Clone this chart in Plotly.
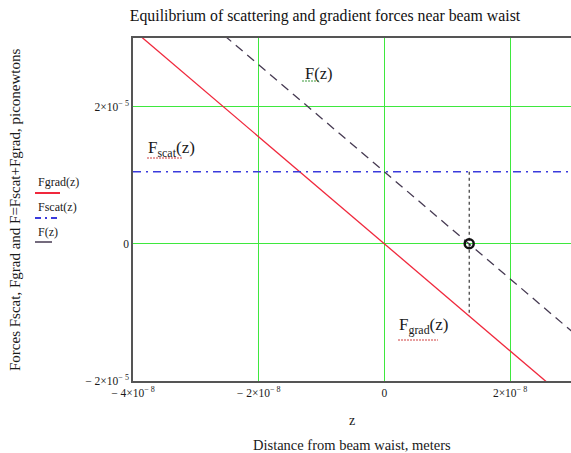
import plotly.graph_objects as go

# ---- data ----
z_vals = [-4e-8, -2e-8, 0.0, 2e-8, 3e-8]
fgrad_vals = [3.12e-5, 1.56e-5, 0.0, -1.56e-5, -2.34e-5]
fscat_vals = [1.05e-5, 1.05e-5, 1.05e-5, 1.05e-5, 1.05e-5]
f_vals = [4.17e-5, 2.61e-5, 1.05e-5, -0.51e-5, -1.29e-5]
z_eq = [1.35e-8]
f_eq = [0.0]
eq_drop_z = [1.35e-8, 1.35e-8]
eq_drop_f = [1.05e-5, -1.05e-5]

x_tickvals = [-4e-8, -2e-8, 0.0, 2e-8]
x_ticktext = ["\u2212 4\u00d710<sup>\u2212 8</sup>", "\u2212 2\u00d710<sup>\u2212 8</sup>", "0", "2\u00d710<sup>\u2212 8</sup>"]
y_tickvals = [-2e-5, 0.0, 2e-5]
y_ticktext = ["\u2212 2\u00d710<sup>\u2212 5</sup>", "0", "2\u00d710<sup>\u2212 5</sup>"]

SERIF = "Liberation Serif, Times New Roman, serif"
GREEN = "#3ee83e"
RED = "#f0283c"
BLUE = "#3a3adc"
FCOL = "#463a52"
TXT = "#1a1a1a"

fig = go.Figure()
fig.add_trace(go.Scatter(x=z_vals, y=fgrad_vals, mode="lines",
                         line=dict(color=RED, width=1.3), showlegend=False))
fig.add_trace(go.Scatter(x=z_vals, y=fscat_vals, mode="lines",
                         line=dict(color=BLUE, width=1.3, dash="8px,5px,2px,5px"), showlegend=False))
fig.add_trace(go.Scatter(x=z_vals, y=f_vals, mode="lines",
                         line=dict(color=FCOL, width=1.3, dash="9px,6px"), showlegend=False))
fig.add_trace(go.Scatter(x=eq_drop_z, y=eq_drop_f, mode="lines",
                         line=dict(color="#111111", width=1, dash="3px,3px"), showlegend=False))
fig.add_trace(go.Scatter(x=z_eq, y=f_eq, mode="markers",
                         marker=dict(symbol="circle-open", size=9, color="#111111",
                                     line=dict(width=2.5, color="#111111")), showlegend=False))

fig.update_layout(
    width=571, height=453,
    margin=dict(l=133, r=0, t=38, b=72),
    paper_bgcolor="white", plot_bgcolor="white",
    font=dict(family=SERIF, size=11, color=TXT),
    title=dict(text="Equilibrium of scattering and gradient forces near beam waist",
               x=325 / 571, xanchor="center", y=1 - 15 / 453, yanchor="middle",
               font=dict(family=SERIF, size=15.8, color="#111111")),
)
fig.update_xaxes(range=[-4e-8, 2.97e-8], tickvals=x_tickvals, ticktext=x_ticktext,
                 showgrid=True, gridcolor=GREEN, gridwidth=1.3,
                 zeroline=False, showline=True, linecolor="#555555", linewidth=1.5, mirror=True,
                 ticks="", tickfont=dict(family=SERIF, size=11.5, color=TXT))
fig.update_yaxes(range=[-2e-5, 3e-5], tickvals=y_tickvals, ticktext=y_ticktext,
                 showgrid=True, gridcolor=GREEN, gridwidth=1.3,
                 zeroline=False, showline=True, linecolor="#555555", linewidth=1.5,
                 ticks="", tickfont=dict(family=SERIF, size=11.5, color=TXT))

def px(xp):
    return (xp - 133) / 438.0

def py(yp):
    return (381 - yp) / 343.0

ann = []
# axis titles
ann.append(dict(text="z", x=0.5, y=py(420), xref="paper", yref="paper", showarrow=False,
                font=dict(family=SERIF, size=14, color=TXT), xanchor="center", yanchor="middle"))
ann.append(dict(text="Distance from beam waist, meters", x=0.5, y=py(445), xref="paper", yref="paper",
                showarrow=False, font=dict(family=SERIF, size=14.5, color=TXT),
                xanchor="center", yanchor="middle"))
ann.append(dict(text="Forces Fscat, Fgrad and F=Fscat+Fgrad, piconewtons", x=px(15), y=py(210),
                xref="paper", yref="paper", showarrow=False, textangle=-90,
                font=dict(family=SERIF, size=15, color=TXT), xanchor="center", yanchor="middle"))
# legend texts
for txt, ypix in [("Fgrad(z)", 182), ("Fscat(z)", 207), ("F(z)", 232)]:
    ann.append(dict(text=txt, x=px(36), y=py(ypix), xref="paper", yref="paper", showarrow=False,
                    font=dict(family=SERIF, size=12, color=TXT), xanchor="left", yanchor="middle"))
# in-plot labels
ann.append(dict(text="F(z)", x=-1.29e-8, y=2.48e-5, showarrow=False, xanchor="left", yanchor="middle",
                font=dict(family=SERIF, size=16.5, color=TXT)))
ann.append(dict(text="F<sub>scat</sub>(z)", x=-3.8e-8, y=1.38e-5, showarrow=False, xanchor="left",
                yanchor="middle", font=dict(family=SERIF, size=17, color=TXT)))
ann.append(dict(text="F<sub>grad</sub>(z)", x=0.2e-8, y=-1.2e-5, showarrow=False, xanchor="left",
                yanchor="middle", font=dict(family=SERIF, size=17, color=TXT)))
fig.update_layout(annotations=ann)

shapes = []
# legend line samples
shapes.append(dict(type="line", xref="paper", yref="paper", x0=px(35), x1=px(60), y0=py(193), y1=py(193),
                   line=dict(color=RED, width=2)))
shapes.append(dict(type="line", xref="paper", yref="paper", x0=px(35), x1=px(60), y0=py(218), y1=py(218),
                   line=dict(color=BLUE, width=2, dash="6px,4px,2px,4px")))
shapes.append(dict(type="line", xref="paper", yref="paper", x0=px(35), x1=px(52), y0=py(242), y1=py(242),
                   line=dict(color=FCOL, width=1.5)))
# spell-check squiggles under in-plot labels
shapes.append(dict(type="line", xref="paper", yref="paper", x0=px(302), x1=px(320), y0=py(81), y1=py(81),
                   line=dict(color="#3a9a3a", width=1, dash="2px,1px")))
shapes.append(dict(type="line", xref="paper", yref="paper", x0=px(147), x1=px(183), y0=py(158), y1=py(158),
                   line=dict(color="#d04040", width=1, dash="2px,1px")))
shapes.append(dict(type="line", xref="paper", yref="paper", x0=px(398), x1=px(438), y0=py(340), y1=py(340),
                   line=dict(color="#d04040", width=1, dash="2px,1px")))
fig.update_layout(shapes=shapes)

fig.write_html("out.html")
